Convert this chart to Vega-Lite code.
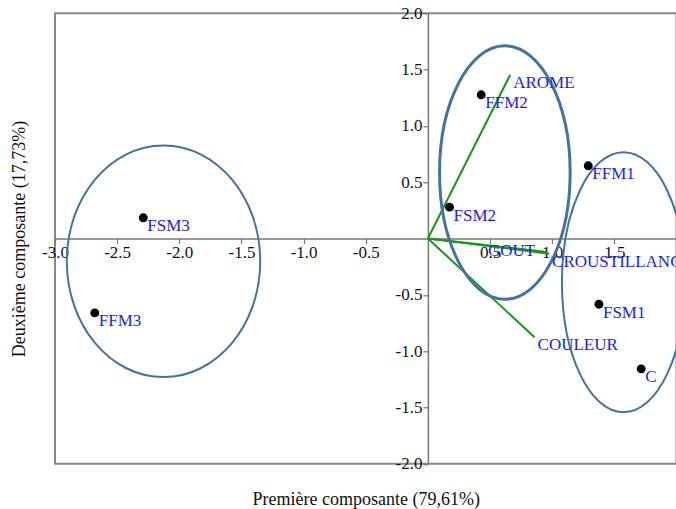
{
  "$schema": "https://vega.github.io/schema/vega-lite/v6.json",
  "width": 621.5,
  "height": 450.5,
  "autosize": {"type": "none"},
  "padding": {"left": 55, "top": 13.3, "right": 0, "bottom": 45.2},
  "background": "white",
  "config": {
    "view": {"stroke": "#888888", "strokeWidth": 2},
    "font": "Liberation Serif"
  },
  "datasets": {
    "obs": [
      {"name": "FSM3", "x": -2.29, "y": 0.184},
      {"name": "FFM3", "x": -2.68, "y": -0.66},
      {"name": "FFM2", "x": 0.429, "y": 1.276},
      {"name": "FSM2", "x": 0.174, "y": 0.279},
      {"name": "FFM1", "x": 1.29, "y": 0.646},
      {"name": "FSM1", "x": 1.376, "y": -0.583},
      {"name": "C", "x": 1.716, "y": -1.157}
    ],
    "vars": [
      {"name": "AROME", "x": 0.662, "y": 1.454},
      {"name": "GOUT", "x": 0.96, "y": -0.12},
      {"name": "CROUSTILLANCE", "x": 0.975, "y": -0.135},
      {"name": "COULEUR", "x": 0.858, "y": -0.876}
    ],
    "ellipses": [
      {"name": "E1", "x": -2.127, "y": -0.202},
      {"name": "E2", "x": 0.619, "y": 0.586},
      {"name": "E3", "x": 1.574, "y": -0.387}
    ]
  },
  "encoding": {
    "x": {
      "field": "x", "type": "quantitative",
      "scale": {"domain": [-3, 2], "nice": false, "zero": false},
      "axis": {
        "orient": "bottom", "offset": -225.25,
        "values": [-3, -2.5, -2, -1.5, -1, -0.5, 0.5, 1, 1.5],
        "labelExpr": "replace(format(datum.value, '.1f'), '\u2212', '-')",
        "labelFlush": false, "labelOverlap": false, "labelBound": false,
        "labelFont": "Liberation Serif", "labelFontSize": 17, "labelColor": "#111111",
        "labelPadding": 1,
        "grid": false, "domainColor": "#777777", "domainWidth": 1.5,
        "tickColor": "#777777", "tickWidth": 1.2, "tickSize": 5,
        "title": "Première composante (79,61%)",
        "titleFont": "Liberation Serif", "titleFontSize": 18, "titleFontWeight": "normal",
        "titleColor": "#111111", "titleY": 260.5, "titleBaseline": "middle"
      }
    },
    "y": {
      "field": "y", "type": "quantitative",
      "scale": {"domain": [-2, 2], "nice": false, "zero": false},
      "axis": {
        "orient": "left", "offset": -372.9,
        "values": [-2, -1.5, -1, -0.5, 0.5, 1, 1.5, 2],
        "labelExpr": "replace(format(datum.value, '.1f'), '\u2212', '-')",
        "labelFlush": false, "labelOverlap": false, "labelBound": false,
        "labelFont": "Liberation Serif", "labelFontSize": 17, "labelColor": "#111111",
        "labelPadding": 1,
        "grid": false, "domainColor": "#777777", "domainWidth": 1.5,
        "tickColor": "#777777", "tickWidth": 1.2, "tickSize": 5,
        "title": "Deuxième composante (17,73%)",
        "titleFont": "Liberation Serif", "titleFontSize": 18, "titleFontWeight": "normal",
        "titleColor": "#111111", "titleX": -408, "titleBaseline": "middle", "titleAngle": -90
      }
    }
  },
  "layer": [
    {
      "data": {"name": "vars"},
      "mark": {"type": "rule", "color": "#1a961a", "strokeWidth": 2},
      "encoding": {
        "x2": {"datum": 0},
        "y2": {"datum": 0}
      }
    },
    {
      "data": {"name": "ellipses"},
      "transform": [{"filter": "datum.name === 'E1'"}],
      "mark": {"type": "point", "filled": false, "clip": true, "size": 4, "opacity": 1,
        "stroke": "#44739f", "strokeWidth": 2,
        "shape": "M96.7,0C96.7,64,53.4,115.8,0,115.8C-53.4,115.8,-96.7,64,-96.7,0C-96.7,-64,-53.4,-115.8,0,-115.8C53.4,-115.8,96.7,-64,96.7,0Z"}
    },
    {
      "data": {"name": "ellipses"},
      "transform": [{"filter": "datum.name === 'E2'"}],
      "mark": {"type": "point", "filled": false, "clip": true, "size": 4, "opacity": 1,
        "stroke": "#44739f", "strokeWidth": 3,
        "shape": "M65.3,0C65.3,70,36.1,126.7,0,126.7C-36.1,126.7,-65.3,70,-65.3,0C-65.3,-70,-36.1,-126.7,0,-126.7C36.1,-126.7,65.3,-70,65.3,0Z"}
    },
    {
      "data": {"name": "ellipses"},
      "transform": [{"filter": "datum.name === 'E3'"}],
      "mark": {"type": "point", "filled": false, "clip": true, "size": 4, "opacity": 1,
        "stroke": "#44739f", "strokeWidth": 2,
        "shape": "M61.6,0C61.6,71.8,34,130,0,130C-34,130,-61.6,71.8,-61.6,0C-61.6,-71.8,-34,-130,0,-130C34,-130,61.6,-71.8,61.6,0Z"}
    },
    {
      "data": {"name": "obs"},
      "mark": {"type": "circle", "size": 80, "color": "black", "opacity": 1}
    },
    {
      "data": {"name": "obs"},
      "mark": {"type": "text", "align": "left", "baseline": "alphabetic", "dx": 4, "dy": 13.5,
        "font": "Liberation Serif", "fontSize": 17, "color": "#1a1aff", "clip": true},
      "encoding": {"text": {"field": "name"}}
    },
    {
      "data": {"name": "vars"},
      "transform": [{"filter": "datum.name !== 'GOUT'"}],
      "mark": {"type": "text", "align": "left", "baseline": "alphabetic", "dx": 3, "dy": 13,
        "font": "Liberation Serif", "fontSize": 17, "color": "#1a1aff", "clip": true},
      "encoding": {"text": {"field": "name"}}
    },
    {
      "data": {"name": "vars"},
      "transform": [{"filter": "datum.name === 'GOUT'"}],
      "mark": {"type": "text", "align": "right", "baseline": "alphabetic", "dx": -12, "dy": 4,
        "font": "Liberation Serif", "fontSize": 17, "color": "#1a1aff", "clip": true},
      "encoding": {"text": {"field": "name"}}
    }
  ]
}
